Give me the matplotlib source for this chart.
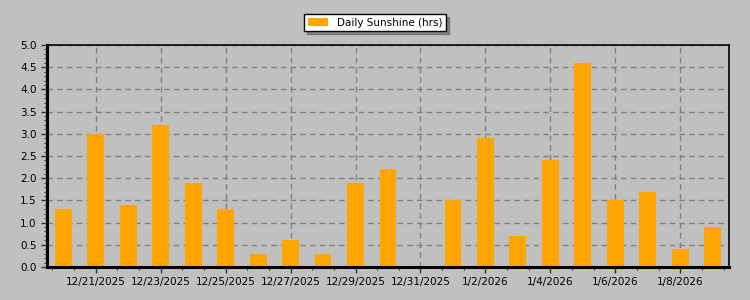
import numpy as np
import pandas as pd
import matplotlib
matplotlib.use("Agg")
import matplotlib.pyplot as plt

# Daily sunshine hours, 12/20/2025 - 1/9/2026
dates = pd.date_range("2025-12-20", "2026-01-09", freq="D")
sunshine = [1.3, 3.0, 1.4, 3.2, 1.9, 1.3, 0.3, 0.6, 0.3, 1.9, 2.2,
            0.0, 1.5, 2.9, 0.7, 2.4, 4.6, 1.5, 1.7, 0.4, 0.9]
series_name = "Daily Sunshine (hrs)"

bg = "#C0C0C0"
bar_color = "#FFA500"

fig = plt.figure(figsize=(7.5, 3), dpi=100, facecolor=bg)
ax = fig.add_axes([47 / 750, 33 / 300, 682 / 750, 222 / 300], facecolor=bg)

x = np.arange(len(dates))
ax.bar(x, sunshine, width=0.52, color=bar_color, label=series_name, zorder=3)

ax.set_xlim(-0.5, len(dates) - 0.5)
ax.set_ylim(0, 5.0)

major = x[1::2]
ax.set_xticks(major)
ax.set_xticklabels([f"{d.month}/{d.day}/{d.year}" for d in dates[1::2]])
ax.set_xticks(np.arange(-1 / 3, len(dates) - 0.5, 2 / 3), minor=True)
ax.set_yticks(np.arange(0, 5.01, 0.5))
ax.set_yticklabels([f"{v:.1f}" for v in np.arange(0, 5.01, 0.5)])
ax.set_yticks(np.arange(0, 5.01, 0.1), minor=True)

ax.tick_params(axis="both", which="major", labelsize=7.5, length=4, width=1, color="#333333")
ax.tick_params(axis="both", which="minor", length=2, width=0.8, color="#333333")

ax.grid(True, which="major", color="#808080", linestyle=(0, (4, 3)), linewidth=1, zorder=0)

for side in ["left", "bottom"]:
    ax.spines[side].set_linewidth(2.2)
for side in ["top", "right"]:
    ax.spines[side].set_linewidth(1.2)
for s in ax.spines.values():
    s.set_color("black")
    s.set_zorder(4)

leg = fig.legend(loc="center", bbox_to_anchor=(0.5, 0.925), fontsize=7.5,
                 frameon=True, fancybox=False, shadow=True, edgecolor="black",
                 framealpha=1, borderpad=0.35, handlelength=2.0, handleheight=0.8)
leg.get_frame().set_linewidth(1)

fig.savefig("out.png", dpi=100, facecolor=bg)
